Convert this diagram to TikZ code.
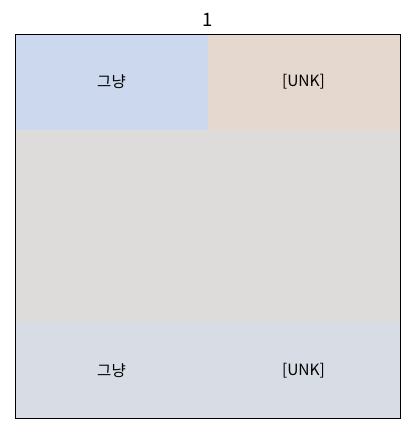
\documentclass[tikz,border=0pt]{standalone}
\usepackage{fontspec}
\setmainfont{Noto Sans CJK KR}
\definecolor{cTL}{HTML}{CBD8EE}
\definecolor{cTR}{HTML}{E5D8CF}
\definecolor{cMid}{HTML}{DDDCDA}
\definecolor{cBot}{HTML}{D8DCE4}
\begin{document}
\begin{tikzpicture}[x=1pt,y=-1pt,
  lbl/.style={font=\fontsize{15.5}{17}\selectfont, inner sep=0pt}]
\useasboundingbox (0,0) rectangle (409,434);
\fill[cTL] (15,34) rectangle (208,130);
\fill[cTR] (208,34) rectangle (400,130);
\fill[cMid] (15,130) rectangle (400,322);
\fill[cBot] (15,322) rectangle (400,418);
\draw[line width=0.9pt] (15,34) rectangle (400,418);
\node[lbl] (a) at (111.5,82) {그냥};
\node[lbl] (b) at (303.5,82) {[UNK]};
\node[lbl] (c) at (111.5,371) {그냥};
\node[lbl] (d) at (303.5,371) {[UNK]};
\node[font=\fontsize{18.5}{20}\selectfont, inner sep=0pt] (t) at (208,20) {1};
\end{tikzpicture}
\end{document}
